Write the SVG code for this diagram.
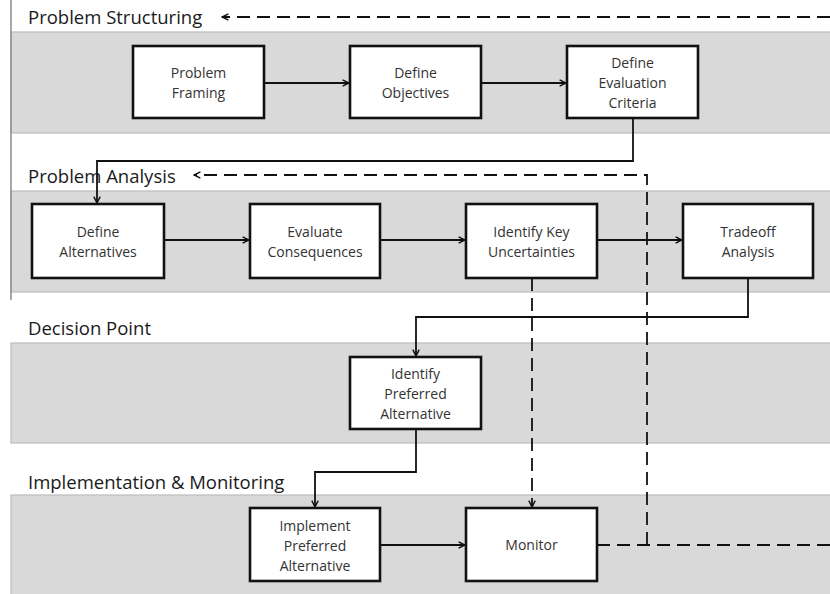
<svg xmlns="http://www.w3.org/2000/svg" width="830" height="594" viewBox="0 0 830 594">
<style>
.band{fill:#d9d9d9;stroke:#bdbdbd;stroke-width:1.2}
.title{font-family:"Open Sans","Liberation Sans",sans-serif;font-size:18.5px;fill:#1a1a1a}
.box{fill:#fff;stroke:#111;stroke-width:2.6}
.lbl{font-family:"Open Sans","Liberation Sans",sans-serif;font-size:14px;fill:#333;text-anchor:middle}
.c{fill:none;stroke:#111;stroke-width:1.8}
.d{fill:none;stroke:#111;stroke-width:1.8;stroke-dasharray:13 7}
</style>
<defs>
<marker id="ah" viewBox="0 0 10 10" refX="9" refY="5" markerWidth="8" markerHeight="8" markerUnits="userSpaceOnUse" orient="auto">
<path d="M1,1 L9,5 L1,9" fill="none" stroke="#111" stroke-width="1.8"/>
</marker>
</defs>
<g id="bands">
<rect class="band" x="11" y="32" width="830" height="101"/>
<rect class="band" x="11" y="191" width="830" height="101"/>
<rect class="band" x="11" y="343" width="830" height="100"/>
<rect class="band" x="11" y="495" width="830" height="110"/>
<line x1="11" y1="0" x2="11" y2="300" stroke="#8c8c8c" stroke-width="1.5"/>
<text class="title" x="28" y="24">Problem Structuring</text>
<text class="title" x="28" y="183">Problem Analysis</text>
<text class="title" x="28" y="335">Decision Point</text>
<text class="title" x="28" y="489">Implementation &amp; Monitoring</text>
</g>
<g id="connectors">
<path class="c" d="M264,83 H349" marker-end="url(#ah)"/>
<path class="c" d="M481,83 H566" marker-end="url(#ah)"/>
<path class="c" d="M633,118 V161 H97 V203" marker-end="url(#ah)"/>
<path class="c" d="M164,240 H249" marker-end="url(#ah)"/>
<path class="c" d="M380,240 H465" marker-end="url(#ah)"/>
<path class="c" d="M597,240 H682" marker-end="url(#ah)"/>
<path class="c" d="M748,278 V317 H416 V356" marker-end="url(#ah)"/>
<path class="c" d="M416,429 V472 H315 V507" marker-end="url(#ah)"/>
<path class="c" d="M380,545 H465" marker-end="url(#ah)"/>
<path class="d" d="M532,278 V507" marker-end="url(#ah)"/>
<path class="d" d="M830,17 H222" marker-end="url(#ah)"/>
<path class="d" d="M597,545 H830"/>
<path class="d" d="M647,545 V175 H194" marker-end="url(#ah)"/>
</g>
<g id="problem-framing">
<rect class="box" x="133" y="46" width="131" height="72"/>
<text class="lbl" x="198.5" y="78">Problem</text>
<text class="lbl" x="198.5" y="98">Framing</text>
</g>
<g id="define-objectives">
<rect class="box" x="350" y="46" width="131" height="72"/>
<text class="lbl" x="415.5" y="78">Define</text>
<text class="lbl" x="415.5" y="98">Objectives</text>
</g>
<g id="define-evaluation-criteria">
<rect class="box" x="567" y="46" width="131" height="72"/>
<text class="lbl" x="632.5" y="68">Define</text>
<text class="lbl" x="632.5" y="88">Evaluation</text>
<text class="lbl" x="632.5" y="108">Criteria</text>
</g>
<g id="define-alternatives">
<rect class="box" x="32" y="204" width="132" height="74"/>
<text class="lbl" x="98" y="237">Define</text>
<text class="lbl" x="98" y="257">Alternatives</text>
</g>
<g id="evaluate-consequences">
<rect class="box" x="250" y="204" width="130" height="74"/>
<text class="lbl" x="315" y="237">Evaluate</text>
<text class="lbl" x="315" y="257">Consequences</text>
</g>
<g id="identify-key-uncertainties">
<rect class="box" x="466" y="204" width="131" height="74"/>
<text class="lbl" x="531.5" y="237">Identify Key</text>
<text class="lbl" x="531.5" y="257">Uncertainties</text>
</g>
<g id="tradeoff-analysis">
<rect class="box" x="683" y="204" width="130" height="74"/>
<text class="lbl" x="748" y="237">Tradeoff</text>
<text class="lbl" x="748" y="257">Analysis</text>
</g>
<g id="identify-preferred-alternative">
<rect class="box" x="350" y="357" width="131" height="72"/>
<text class="lbl" x="415.5" y="379">Identify</text>
<text class="lbl" x="415.5" y="399">Preferred</text>
<text class="lbl" x="415.5" y="419">Alternative</text>
</g>
<g id="implement-preferred-alternative">
<rect class="box" x="250" y="508" width="130" height="73"/>
<text class="lbl" x="315" y="531">Implement</text>
<text class="lbl" x="315" y="551">Preferred</text>
<text class="lbl" x="315" y="571">Alternative</text>
</g>
<g id="monitor">
<rect class="box" x="466" y="508" width="131" height="73"/>
<text class="lbl" x="531.5" y="550">Monitor</text>
</g>
</svg>
